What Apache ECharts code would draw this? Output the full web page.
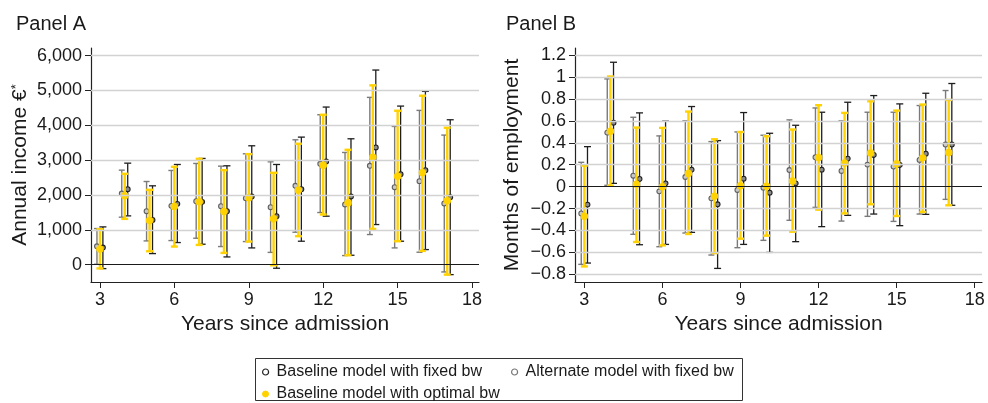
<!DOCTYPE html>
<html>
<head>
<meta charset="utf-8">
<script src="https://cdn.jsdelivr.net/npm/echarts@6/dist/echarts.min.js"></script>
<style>
  html, body { margin: 0; padding: 0; background: #fff; }
  #chart { width: 988px; height: 403px; }
</style>
</head>
<body>
<div id="chart"></div>
<script>
// Years since admission
const years = [3, 4, 5, 6, 7, 8, 9, 10, 11, 12, 13, 14, 15, 16, 17];

// Panel A: annual income (€) — point estimates and 95% CI bounds
const incBaseFixedEst = [489, 2166, 1284, 1744, 1802, 1533, 1955, 1390, 2166, 2961, 1955, 3364, 2597, 2712, 1936];
const incBaseFixedLo  = [-115, 1399, 316, 633, 585, 220, 479, -105, 671, 1390, 268, 1150, 671, 431, -288];
const incBaseFixedHi  = [1083, 2913, 2262, 2875, 3048, 2837, 3412, 2875, 3661, 4524, 3613, 5587, 4552, 4974, 4159];

const incAltFixedEst = [527, 2041, 1533, 1687, 1821, 1677, 1907, 1648, 2262, 2894, 1725, 2837, 2223, 2396, 1754];
const incAltFixedLo  = [10, 1361, 680, 690, 757, 518, 661, 350, 930, 1495, 259, 863, 479, 355, -211];
const incAltFixedHi  = [1035, 2712, 2386, 2703, 2904, 2827, 3182, 2952, 3584, 4303, 3220, 4802, 3968, 4428, 3719];

const incBaseOptEst = [450, 1974, 1265, 1668, 1802, 1524, 1917, 1313, 2137, 2856, 1773, 3086, 2540, 2636, 1831];
const incBaseOptLo  = [-110, 1313, 383, 518, 565, 335, 661, -19, 815, 1438, 268, 1025, 671, 393, -288];
const incBaseOptHi  = [1016, 2607, 2147, 2808, 3038, 2712, 3172, 2636, 3470, 4303, 3297, 5147, 4418, 4849, 3930];

// Panel B: months of employment — point estimates and 95% CI bounds
const empBaseFixedEst = [-0.164, 0.584, 0.070, 0.030, 0.155, -0.161, 0.073, -0.055, 0.030, 0.155, 0.256, 0.289, 0.198, 0.301, 0.384];
const empBaseFixedLo  = [-0.697, 0.030, -0.530, -0.527, -0.417, -0.746, -0.527, -0.600, -0.502, -0.365, -0.262, -0.250, -0.356, -0.253, -0.170];
const empBaseFixedHi  = [0.365, 1.135, 0.673, 0.597, 0.731, 0.420, 0.676, 0.487, 0.560, 0.679, 0.770, 0.831, 0.755, 0.852, 0.941];

const empAltFixedEst = [-0.244, 0.493, 0.100, -0.043, 0.088, -0.107, -0.030, -0.009, 0.152, 0.268, 0.143, 0.201, 0.183, 0.244, 0.384];
const empAltFixedLo  = [-0.709, 0.012, -0.435, -0.548, -0.423, -0.624, -0.557, -0.490, -0.307, -0.189, -0.314, -0.271, -0.317, -0.250, -0.116];
const empAltFixedHi  = [0.222, 0.983, 0.633, 0.463, 0.600, 0.411, 0.499, 0.469, 0.609, 0.718, 0.600, 0.679, 0.679, 0.740, 0.877];

const empBaseOptEst = [-0.271, 0.505, 0.021, 0.000, 0.119, -0.088, 0.009, 0.003, 0.052, 0.265, 0.216, 0.307, 0.210, 0.262, 0.311];
const empBaseOptLo  = [-0.728, 0.009, -0.505, -0.536, -0.432, -0.606, -0.475, -0.447, -0.411, -0.210, -0.244, -0.161, -0.268, -0.231, -0.170];
const empBaseOptHi  = [0.192, 1.005, 0.539, 0.536, 0.685, 0.432, 0.499, 0.460, 0.521, 0.743, 0.673, 0.779, 0.694, 0.749, 0.791];

// Axis tick values
const xTicks = [3, 6, 9, 12, 15, 18];
const incTicks = [0, 1000, 2000, 3000, 4000, 5000, 6000];
const empTicks = [-0.8, -0.6, -0.4, -0.2, 0, 0.2, 0.4, 0.6, 0.8, 1, 1.2];

const NAME_BF = 'Baseline model with fixed bw';
const NAME_AF = 'Alternate model with fixed bw';
const NAME_BO = 'Baseline model with optimal bw';

const FONT = '"Liberation Sans", Arial, Helvetica, sans-serif';
const YELLOW = '#FFD200';

const styles = {
  [NAME_AF]: { offset: -0.12, bar: '#7a7a7a', barW: 1.4, cap: 6, fill: '#c8c8c8', stroke: '#5e5e5e', r: 2.4 },
  [NAME_BF]: { offset: 0.12, bar: '#1e1e1e', barW: 1.3, cap: 7, fill: '#8a8a8a', stroke: '#1e1e1e', r: 2.4 },
  [NAME_BO]: { offset: 0, bar: YELLOW, barW: 2.4, cap: 7, fill: YELLOW, stroke: YELLOW, r: 3.2 }
};

function rows(est, lo, hi) {
  return years.map((y, i) => [y, lo[i], hi[i], est[i]]);
}

function ciSeries(name, axisIndex, data, z) {
  const s = styles[name];
  return {
    name: name,
    type: 'custom',
    xAxisIndex: axisIndex,
    yAxisIndex: axisIndex,
    z: z,
    data: data,
    encode: { x: 0, y: [1, 2, 3] },
    renderItem: function (params, api) {
      const x = api.value(0) + s.offset;
      const pLo = api.coord([x, api.value(1)]);
      const pHi = api.coord([x, api.value(2)]);
      const pEst = api.coord([x, api.value(3)]);
      const half = s.cap / 2;
      const lineStyle = { stroke: s.bar, lineWidth: s.barW };
      return {
        type: 'group',
        children: [
          { type: 'line', shape: { x1: pLo[0], y1: pLo[1], x2: pHi[0], y2: pHi[1] }, style: lineStyle },
          { type: 'line', shape: { x1: pHi[0] - half, y1: pHi[1], x2: pHi[0] + half, y2: pHi[1] }, style: lineStyle },
          { type: 'line', shape: { x1: pLo[0] - half, y1: pLo[1], x2: pLo[0] + half, y2: pLo[1] }, style: lineStyle },
          { type: 'circle', shape: { cx: pEst[0], cy: pEst[1], r: s.r }, style: { fill: s.fill, stroke: s.stroke, lineWidth: 1.1 } }
        ]
      };
    }
  };
}

// Horizontal grid lines plus the black zero reference line
function gridSeries(axisIndex, ticks) {
  return {
    type: 'scatter',
    xAxisIndex: axisIndex,
    yAxisIndex: axisIndex,
    data: [],
    silent: true,
    z: 0,
    markLine: {
      silent: true,
      symbol: ['none', 'none'],
      label: { show: false },
      animation: false,
      data: ticks.map(v => ({
        yAxis: v,
        lineStyle: v === 0
          ? { color: '#1a1a1a', width: 1.2, type: 'solid' }
          : { color: '#d2d2d2', width: 1.3, type: 'solid' }
      }))
    }
  };
}

function xAxis(gridIndex) {
  return {
    type: 'value',
    gridIndex: gridIndex,
    min: 2.64,
    max: 18.28,
    name: 'Years since admission',
    nameLocation: 'middle',
    nameGap: 30,
    nameTextStyle: { fontFamily: FONT, fontSize: 21, color: '#1a1a1a' },
    axisLine: { show: true, onZero: false, lineStyle: { color: '#222', width: 1.2 } },
    axisTick: { show: true, customValues: xTicks, length: 6, lineStyle: { color: '#222' } },
    axisLabel: { customValues: xTicks, margin: 9, fontFamily: FONT, fontSize: 18, color: '#1a1a1a' },
    splitLine: { show: false }
  };
}

function minusFmt(v) {
  const n = Math.round(v * 10) / 10;
  if (n === 0) return '0';
  const s = String(Math.abs(n));
  return n < 0 ? '\u2212' + s : s;
}

const legendText = { fontFamily: FONT, fontSize: 16, color: '#1a1a1a', padding: [0, 0, 0, 3] };

const option = {
  animation: false,
  backgroundColor: '#ffffff',
  title: [
    { text: 'Panel A', left: 11, top: 9, textStyle: { fontFamily: FONT, fontSize: 20, fontWeight: 'normal', color: '#1a1a1a' } },
    { text: 'Panel B', left: 501, top: 9, textStyle: { fontFamily: FONT, fontSize: 20, fontWeight: 'normal', color: '#1a1a1a' } }
  ],
  grid: [
    { left: 91, top: 48, width: 388, height: 234 },
    { left: 575, top: 48, width: 407, height: 234 }
  ],
  xAxis: [xAxis(0), xAxis(1)],
  yAxis: [
    {
      type: 'value',
      gridIndex: 0,
      min: -500,
      max: 6220,
      name: '{t|Annual income €}{s|*}',
      nameLocation: 'middle',
      nameGap: 60,
      nameTextStyle: {
        rich: {
          t: { fontFamily: FONT, fontSize: 21, color: '#1a1a1a' },
          s: { fontFamily: FONT, fontSize: 13, color: '#1a1a1a', verticalAlign: 'top' }
        }
      },
      axisLine: { show: true, onZero: false, lineStyle: { color: '#222', width: 1.2 } },
      axisTick: { show: true, customValues: incTicks, length: 6, lineStyle: { color: '#222' } },
      axisLabel: {
        customValues: incTicks, margin: 9, fontFamily: FONT, fontSize: 18, color: '#1a1a1a',
        formatter: v => Math.round(v).toLocaleString('en-US')
      },
      splitLine: { show: false }
    },
    {
      type: 'value',
      gridIndex: 1,
      min: -0.87,
      max: 1.265,
      name: 'Months of employment',
      nameLocation: 'middle',
      nameGap: 52,
      nameTextStyle: { fontFamily: FONT, fontSize: 21, color: '#1a1a1a' },
      axisLine: { show: true, onZero: false, lineStyle: { color: '#222', width: 1.2 } },
      axisTick: { show: true, customValues: empTicks, length: 6, lineStyle: { color: '#222' } },
      axisLabel: {
        customValues: empTicks, margin: 9, fontFamily: FONT, fontSize: 18, color: '#1a1a1a',
        formatter: minusFmt
      },
      splitLine: { show: false }
    }
  ],
  legend: [
    {
      left: 262, top: 364, padding: 0, itemWidth: 6, itemHeight: 6, icon: 'circle',
      textStyle: legendText,
      data: [{ name: NAME_BF, itemStyle: { color: '#ffffff', borderColor: '#222', borderWidth: 1.2 } }]
    },
    {
      left: 511, top: 364, padding: 0, itemWidth: 6, itemHeight: 6, icon: 'circle',
      textStyle: legendText,
      data: [{ name: NAME_AF, itemStyle: { color: '#ffffff', borderColor: '#777', borderWidth: 1.2 } }]
    },
    {
      left: 262, top: 386, padding: 0, itemWidth: 6, itemHeight: 6, icon: 'circle',
      textStyle: legendText,
      data: [{ name: NAME_BO, itemStyle: { color: YELLOW, borderColor: YELLOW, borderWidth: 1 } }]
    }
  ],
  graphic: [
    {
      type: 'rect',
      shape: { x: 255.5, y: 358.5, width: 487, height: 42 },
      style: { fill: 'none', stroke: '#333', lineWidth: 1 },
      silent: true
    }
  ],
  series: [
    gridSeries(0, incTicks),
    gridSeries(1, empTicks),
    ciSeries(NAME_AF, 0, rows(incAltFixedEst, incAltFixedLo, incAltFixedHi), 2),
    ciSeries(NAME_BF, 0, rows(incBaseFixedEst, incBaseFixedLo, incBaseFixedHi), 3),
    ciSeries(NAME_BO, 0, rows(incBaseOptEst, incBaseOptLo, incBaseOptHi), 4),
    ciSeries(NAME_AF, 1, rows(empAltFixedEst, empAltFixedLo, empAltFixedHi), 2),
    ciSeries(NAME_BF, 1, rows(empBaseFixedEst, empBaseFixedLo, empBaseFixedHi), 3),
    ciSeries(NAME_BO, 1, rows(empBaseOptEst, empBaseOptLo, empBaseOptHi), 4)
  ]
};

const chart = echarts.init(document.getElementById('chart'), null, { renderer: 'canvas' });
chart.setOption(option);
</script>
</body>
</html>
